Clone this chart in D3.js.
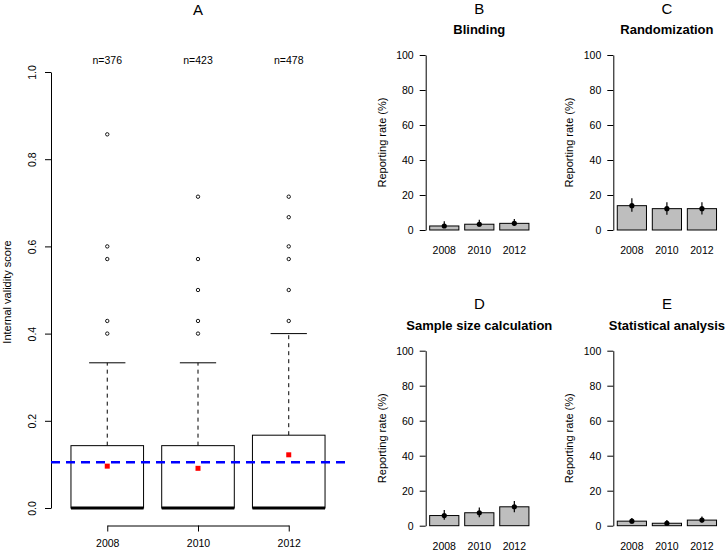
<!DOCTYPE html>
<html>
<head>
<meta charset="utf-8">
<script src="https://cdn.jsdelivr.net/npm/d3@7"></script>
<style>
  body { margin: 0; background: #fff; }
  svg { font-family: Arial, "Liberation Sans", sans-serif; }
</style>
</head>
<body>
<div id="chart"></div>
<script>
// ---- data ----
const years = ["2008", "2010", "2012"];
const nCounts = [376, 423, 478];

// panel A: box stats of internal validity score
const boxQ1 = [0, 0, 0];
const boxMedian = [0, 0, 0];
const boxQ3 = [0.143, 0.143, 0.167];
const whiskerHi = [0.333, 0.333, 0.4];
const outliers = [
  [0.857, 0.6, 0.571, 0.429, 0.4],
  [0.714, 0.571, 0.5, 0.429, 0.4],
  [0.714, 0.667, 0.6, 0.571, 0.5, 0.429]
];
const yearMeans = [0.096, 0.091, 0.122];
const overallMean = 0.105;
const scoreTicks = [0, 0.2, 0.4, 0.6, 0.8, 1.0];

// panels B-E: reporting rate (%) with 95% CI
const rateTicks = [0, 20, 40, 60, 80, 100];
const blinding = [2.3, 3.3, 3.8];
const blindingLo = [1.1, 2.0, 2.3];
const blindingHi = [5.0, 5.8, 6.3];
const randomization = [13.9, 12.2, 12.2];
const randomizationLo = [10.5, 8.7, 8.9];
const randomizationHi = [18.1, 15.8, 15.8];
const sampleSize = [5.8, 7.4, 10.8];
const sampleSizeLo = [3.4, 4.9, 7.7];
const sampleSizeHi = [9.0, 10.4, 14.1];
const statAnalysis = [2.6, 1.4, 3.2];
const statAnalysisLo = [1.3, 0.5, 1.9];
const statAnalysisHi = [4.4, 3.3, 5.3];

const W = 727, H = 551;
const svg = d3.select("#chart").append("svg")
  .attr("width", W).attr("height", H)
  .style("background", "#fff");

/////////////////////////////////////////////
// panel A : boxplot
/////////////////////////////////////////////
const ax = d3.scaleLinear().domain([0.38, 3.62]).range([51, 345]);
const ay = d3.scaleLinear().domain([0, 1]).range([508, 72]);
const boxW = ax(1.4) - ax(1);   // half of boxwex 0.8
const capW = boxW / 2;

const gA = svg.append("g");

gA.append("text").attr("x", ax(2)).attr("y", 15).attr("text-anchor", "middle")
  .attr("font-size", 15).text("A");

// y axis, rotated tick labels like R
const yAxisA = gA.append("g").attr("transform", "translate(51,0)")
  .call(d3.axisLeft(ay).tickValues(scoreTicks).tickFormat(d3.format(".1f"))
    .tickSize(6).tickSizeOuter(0));
yAxisA.selectAll("text")
  .attr("font-size", 10.5).attr("fill", "#000")
  .attr("x", 0).attr("dy", 0)
  .attr("text-anchor", "middle")
  .attr("transform", "translate(-15,0) rotate(-90)");

gA.append("text")
  .attr("transform", `translate(11,${(ay(0) + ay(1)) / 2 + 2}) rotate(-90)`)
  .attr("text-anchor", "middle").attr("font-size", 11)
  .text("Internal validity score");

// x axis between first and last group
const xAxisScale = d3.scalePoint().domain(years).range([ax(1), ax(3)]);
const xAxisA = gA.append("g").attr("transform", "translate(0,525.5)")
  .call(d3.axisBottom(xAxisScale).tickSize(6).tickSizeOuter(0).tickPadding(8));
xAxisA.selectAll("text").attr("font-size", 10.5).attr("fill", "#000");

[yAxisA, xAxisA].forEach(a => {
  a.select(".domain").attr("stroke", "#000");
  a.selectAll(".tick line").attr("stroke", "#000");
});

// n labels
gA.selectAll(".nlab").data(nCounts).join("text")
  .attr("x", (d, i) => ax(i + 1)).attr("y", 64)
  .attr("text-anchor", "middle").attr("font-size", 10.5)
  .text(d => "n=" + d);

years.forEach((yr, i) => {
  const cx = ax(i + 1);
  // dashed whisker
  gA.append("line")
    .attr("x1", cx).attr("x2", cx)
    .attr("y1", ay(boxQ3[i])).attr("y2", ay(whiskerHi[i]))
    .attr("stroke", "#000").attr("stroke-dasharray", "4,4");
  // whisker cap
  gA.append("line")
    .attr("x1", cx - capW).attr("x2", cx + capW)
    .attr("y1", ay(whiskerHi[i])).attr("y2", ay(whiskerHi[i]))
    .attr("stroke", "#000");
  // box
  gA.append("rect")
    .attr("x", cx - boxW).attr("width", boxW * 2)
    .attr("y", ay(boxQ3[i])).attr("height", ay(boxQ1[i]) - ay(boxQ3[i]))
    .attr("fill", "#fff").attr("stroke", "#000");
  // median
  gA.append("line")
    .attr("x1", cx - boxW).attr("x2", cx + boxW)
    .attr("y1", ay(boxMedian[i])).attr("y2", ay(boxMedian[i]))
    .attr("stroke", "#000").attr("stroke-width", 3);
  // outliers
  gA.selectAll(null).data(outliers[i]).join("circle")
    .attr("cx", cx).attr("cy", d => ay(d)).attr("r", 1.7)
    .attr("fill", "none").attr("stroke", "#000").attr("stroke-width", 0.9);
});

// overall mean line
gA.append("line")
  .attr("x1", ax.range()[0]).attr("x2", ax.range()[1])
  .attr("y1", ay(overallMean)).attr("y2", ay(overallMean))
  .attr("stroke", "#0000ff").attr("stroke-width", 2.5)
  .attr("stroke-dasharray", "9,6");

// yearly means
gA.selectAll(".mean").data(yearMeans).join("rect")
  .attr("x", (d, i) => ax(i + 1) - 2.5).attr("y", d => ay(d) - 2.5)
  .attr("width", 5).attr("height", 5).attr("fill", "#ff0000");

/////////////////////////////////////////////
// panels B-E : bar charts with CI
/////////////////////////////////////////////
function barPanel(letter, title, vals, lo, hi, axisX, y0, topY) {
  const g = svg.append("g");
  // R barplot units: bars 0.2-1.2, 1.4-2.4, 2.6-3.6
  const x = d3.scaleLinear().domain([0.064, 3.736]).range([axisX, axisX + 107.2]);
  const y = d3.scaleLinear().domain([0, 100]).range([y0, y0 - 175]);
  const midX = (x.range()[0] + x.range()[1]) / 2;

  g.append("text").attr("x", midX).attr("y", topY).attr("text-anchor", "middle")
    .attr("font-size", 15).text(letter);
  g.append("text").attr("x", midX).attr("y", topY + 20.5).attr("text-anchor", "middle")
    .attr("font-size", 13).attr("font-weight", "bold").text(title);

  const yAx = g.append("g").attr("transform", `translate(${axisX},0)`)
    .call(d3.axisLeft(y).tickValues(rateTicks).tickSize(6).tickSizeOuter(0).tickPadding(6));
  yAx.select(".domain").attr("stroke", "#000");
  yAx.selectAll(".tick line").attr("stroke", "#000");
  yAx.selectAll("text").attr("font-size", 10.5).attr("fill", "#000");

  g.append("text")
    .attr("transform", `translate(${axisX - 40},${y0 - 87.5}) rotate(-90)`)
    .attr("text-anchor", "middle").attr("font-size", 11)
    .text("Reporting rate (%)");

  const left = i => 0.2 + i * 1.2;
  g.selectAll(".bar").data(vals).join("rect")
    .attr("x", (d, i) => x(left(i))).attr("width", x(1.2) - x(0.2))
    .attr("y", d => y(d)).attr("height", d => y(0) - y(d))
    .attr("fill", "#bebebe").attr("stroke", "#000");

  g.selectAll(".err").data(vals).join("line")
    .attr("x1", (d, i) => x(left(i) + 0.5)).attr("x2", (d, i) => x(left(i) + 0.5))
    .attr("y1", (d, i) => y(lo[i])).attr("y2", (d, i) => y(hi[i]))
    .attr("stroke", "#000").attr("stroke-width", 1.2);

  g.selectAll(".pt").data(vals).join("circle")
    .attr("cx", (d, i) => x(left(i) + 0.5)).attr("cy", d => y(d))
    .attr("r", 2.6).attr("fill", "#000");

  g.selectAll(".xl").data(years).join("text")
    .attr("x", (d, i) => x(left(i) + 0.5)).attr("y", y0 + 24)
    .attr("text-anchor", "middle").attr("font-size", 10.5)
    .text(d => d);
}

barPanel("B", "Blinding", blinding, blindingLo, blindingHi, 425.7, 230, 13.5);
barPanel("C", "Randomization", randomization, randomizationLo, randomizationHi, 613.3, 230, 13.5);
barPanel("D", "Sample size calculation", sampleSize, sampleSizeLo, sampleSizeHi, 425.7, 525.7, 309);
barPanel("E", "Statistical analysis", statAnalysis, statAnalysisLo, statAnalysisHi, 613.3, 525.7, 309);
</script>
</body>
</html>
